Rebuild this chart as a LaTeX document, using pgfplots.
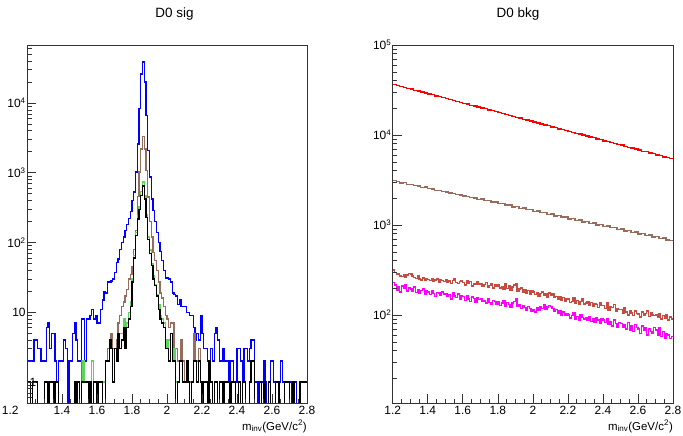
\documentclass[border=0pt]{standalone}
\usepackage{fontspec}
\setmainfont{Liberation Sans}
\usepackage{pgfplots}
\usepackage{pgfplotstable}
\pgfplotsset{compat=1.18}
\definecolor{hblue}{RGB}{0,0,255}
\definecolor{hbrown}{RGB}{150,108,92}
\definecolor{hgreen}{RGB}{90,215,90}
\definecolor{hred}{RGB}{255,0,0}
\definecolor{hrosy}{RGB}{200,75,65}
\definecolor{hmag}{RGB}{255,0,255}

% left panel: 0.01 GeV bins from 1.20; the last row repeats the last bin to close it at 2.80
\pgfplotstableread[row sep=\\]{
U R G B\\
2 1 1 1\\ 2 1 1 1\\ 2 0 0 0\\ 2 1 1 1\\ 4 1 1 1\\ 4 1 1 1\\ 3 0 0 0\\ 3 0 0 0\\ 2 0 0 0\\ 2 0 0 0\\
2 1 1 1\\ 6 1 1 1\\ 7 0 0 0\\ 3 1 1 1\\ 5 1 1 1\\ 5 0 0 0\\ 2 1 1 1\\ 1 1 1 1\\ 2 0 0 0\\ 2 0 0 0\\
2 0 0 0\\ 4 0 0 0\\ 3 0 0 0\\ 0 0 0 0\\ 2 0 0 0\\ 2 0 0 0\\ 5 0 0 0\\ 7 1 1 1\\ 4 0 0 0\\ 2 1 1 1\\
2 0 0 0\\ 8 2 1 1\\ 8 2 2 1\\ 2 1 1 1\\ 8 1 1 1\\ 8 0 0 0\\ 9 1 1 1\\ 11 2 2 0\\ 8 1 1 1\\ 9 1 1 1\\
7 1 1 0\\ 7 1 1 1\\ 11 1 1 1\\ 15 1 1 0\\ 20 1 1 0\\ 19 2 2 2\\ 27 3 2 2\\ 27 4 4 4\\ 28 5 3 3\\ 30 3 1 1\\
37 3 3 3\\ 52 4 2 2\\ 58 7 5 5\\ 80 9 5 3\\ 100 12 5 4\\ 120 14 8 6\\ 150 17 6 3\\ 180 21 7 6\\ 220 30 10 8\\ 280 35 14 12\\
400 45 30 27\\ 530 80 65 60\\ 1030 150 140 126\\ 2600 460 240 218\\ 8300 1030 330 300\\ 26000 2200 540 470\\ 39000 3300 740 650\\ 20000 2200 470 420\\ 6600 1070 250 230\\ 2100 450 120 110\\
870 200 78 70\\ 420 120 50 47\\ 290 72 33 30\\ 200 55 25 24\\ 140 40 18 17\\ 100 27 13 11\\ 75 19 9 8\\ 55 16 8 7\\ 40 12 7 6\\ 31 9 4 3\\
31 8 3 3\\ 30 6 4 2\\ 27 7 5 5\\ 19 7 2 2\\ 18 3 3 2\\ 17 3 1 0\\ 13 2 1 1\\ 15 2 2 2\\ 12 4 2 2\\ 12 2 1 1\\
12 1 1 1\\ 10 2 2 2\\ 10 1 1 1\\ 9 1 0 0\\ 9 1 1 1\\ 6 5 2 2\\ 4 2 2 2\\ 5 2 1 1\\ 4 3 2 2\\ 9 1 1 1\\
5 0 0 0\\ 3 1 1 1\\ 3 1 1 1\\ 2 0 0 0\\ 2 2 2 2\\ 3 1 1 1\\ 2 0 0 0\\ 5 1 1 1\\ 6 1 1 1\\ 4 0 0 0\\
2 1 1 1\\ 2 1 1 1\\ 3 0 0 0\\ 2 1 1 1\\ 2 1 1 1\\ 1 1 1 1\\ 2 0 0 0\\ 2 1 1 1\\ 1 1 1 1\\ 1 0 0 0\\
3 0 0 0\\ 3 1 1 1\\ 2 0 0 0\\ 1 1 1 1\\ 3 1 1 1\\ 3 0 0 0\\ 2 0 0 0\\ 3 1 1 1\\ 4 2 2 2\\ 4 2 2 2\\
1 0 0 0\\ 1 0 0 0\\ 0 0 0 0\\ 1 1 1 1\\ 1 0 0 0\\ 2 1 1 1\\ 1 0 0 0\\ 0 0 0 0\\ 1 1 1 1\\ 2 0 0 0\\
2 0 0 0\\ 1 0 0 0\\ 1 1 1 1\\ 1 1 1 1\\ 1 0 0 0\\ 2 0 0 0\\ 1 0 0 0\\ 1 1 1 1\\ 1 1 1 1\\ 1 1 1 1\\
1 0 0 0\\ 0 0 0 0\\ 1 1 1 1\\ 1 0 0 0\\ 0 0 0 0\\ 0 0 0 0\\ 1 1 1 1\\ 1 1 1 1\\ 1 1 1 1\\ 1 1 1 1\\
1 1 1 1\\
}\sig

% right panel, smooth series: 0.02 GeV bins
\pgfplotstableread[row sep=\\]{
Red Brn\\
36300 3100\\ 35600 3050\\ 34500 2940\\ 33900 2950\\ 32800 2830\\
32300 2820\\ 31300 2730\\ 30800 2720\\ 29900 2620\\ 29300 2630\\
28500 2530\\ 28000 2510\\ 27100 2430\\ 26700 2420\\ 25900 2340\\
25400 2330\\ 24600 2260\\ 24200 2250\\ 23500 2170\\ 23100 2160\\
22400 2090\\ 22000 2080\\ 21300 2010\\ 21000 2000\\ 20400 1930\\
19900 1940\\ 19600 1860\\ 18900 1870\\ 18600 1790\\ 18100 1800\\
17800 1720\\ 17200 1730\\ 16900 1660\\ 16400 1660\\ 16100 1590\\
15600 1600\\ 15400 1530\\ 14900 1540\\ 14600 1480\\ 14300 1480\\
13900 1420\\ 13600 1430\\ 13300 1370\\ 12900 1370\\ 12700 1310\\
12300 1320\\ 12100 1260\\ 11700 1270\\ 11500 1220\\ 11200 1220\\
11000 1170\\ 10700 1180\\ 10400 1120\\ 10200 1130\\ 9950 1080\\
9750 1090\\ 9450 1040\\ 9300 1050\\ 9000 1000\\ 8850 1010\\
8600 960\\ 8450 970\\ 8200 930\\ 8050 935\\ 7800 895\\
7700 900\\ 7450 860\\ 7300 870\\ 7150 830\\ 6950 835\\
6800 795\\ 6600 800\\ 6500 765\\ 6300 770\\ 6200 735\\
6000 745\\ 5900 710\\ 5700 715\\ 5650 680\\ 5450 670\\
5450 670\\
}\bkgA

% right panel, noisy series: 0.01 GeV bins
\pgfplotstableread[row sep=\\]{
Ros Mag\\
315 228\\ 298 215\\ 285 190\\ 290 205\\ 272 180\\ 268 210\\ 280 198\\ 265 215\\ 278 185\\ 290 200\\
285 195\\ 270 185\\ 262 205\\ 255 178\\ 275 190\\ 250 172\\ 245 188\\ 258 195\\ 240 170\\ 252 185\\
248 180\\ 240 168\\ 255 185\\ 238 172\\ 245 160\\ 250 178\\ 232 175\\ 248 165\\ 240 180\\ 235 170\\
245 172\\ 230 160\\ 238 168\\ 225 150\\ 240 175\\ 250 162\\ 228 155\\ 222 170\\ 235 148\\ 242 165\\
228 160\\ 215 145\\ 240 165\\ 222 150\\ 235 140\\ 210 158\\ 225 152\\ 218 138\\ 232 155\\ 220 148\\
225 150\\ 210 140\\ 218 145\\ 228 135\\ 205 152\\ 212 138\\ 222 130\\ 200 145\\ 215 140\\ 208 132\\
218 140\\ 200 128\\ 206 135\\ 195 145\\ 225 125\\ 198 138\\ 210 130\\ 190 122\\ 205 135\\ 215 142\\
225 150\\ 185 125\\ 195 130\\ 200 118\\ 180 128\\ 190 120\\ 175 112\\ 188 125\\ 170 118\\ 185 110\\
180 115\\ 168 108\\ 175 120\\ 160 112\\ 172 125\\ 180 118\\ 165 130\\ 170 115\\ 158 122\\ 175 128\\
165 125\\ 170 118\\ 155 110\\ 160 115\\ 150 105\\ 158 112\\ 145 100\\ 155 108\\ 140 98\\ 150 104\\
150 100\\ 138 92\\ 142 98\\ 155 105\\ 135 90\\ 145 96\\ 130 88\\ 140 100\\ 150 94\\ 132 90\\
135 92\\ 140 88\\ 128 95\\ 138 85\\ 125 90\\ 132 82\\ 130 92\\ 120 88\\ 135 80\\ 128 90\\
128 88\\ 118 82\\ 135 90\\ 112 78\\ 125 85\\ 120 75\\ 130 88\\ 110 80\\ 118 72\\ 115 82\\
115 80\\ 105 72\\ 120 78\\ 108 70\\ 100 82\\ 112 68\\ 105 75\\ 98 65\\ 110 78\\ 104 72\\
102 70\\ 95 62\\ 108 75\\ 98 68\\ 104 72\\ 110 60\\ 96 70\\ 105 65\\ 100 62\\ 98 72\\
100 68\\ 95 60\\ 104 72\\ 90 58\\ 98 65\\ 92 55\\ 100 62\\ 88 60\\ 95 55\\ 90 58\\
90 58\\
}\bkgB

\pgfplotsset{
  rootaxis/.style={
    scale only axis, anchor=south west,
    height=358bp,
    xmin=1.2, xmax=2.8,
    xtick={1.2,1.4,1.6,1.8,2,2.2,2.4,2.6,2.8},
    minor x tick num=3,
    tick align=inside, tick pos=left,
    axis on top,
    major tick length=9bp, minor tick length=4.5bp,
    axis line style={black!80, line width=0.8bp},
    every tick/.style={black!80, line width=0.6bp},
    ticklabel style={font=\fontsize{12}{14}\selectfont},
    yticklabel style={inner xsep=1.2bp},
    /pgf/number format/assume math mode=true,
    xlabel style={at={(rel axis cs:1,0)}, anchor=north east, yshift=-17bp,
      inner sep=0pt, font=\fontsize{11.5}{13}\selectfont},
    xlabel={m\textsubscript{inv}(GeV/c\textsuperscript{2})},
  },
  hist/.style={const plot mark left, no markers, line width=1.4bp},
}

\begin{document}
\begin{tikzpicture}[x=1bp,y=1bp]
\useasboundingbox (0,0) rectangle (683,436);
\node[font=\fontsize{13.5}{16}\selectfont] at (174.5,422) {D0 sig};
\node[font=\fontsize{13.5}{16}\selectfont] at (518,422) {D0 bkg};

\begin{axis}[ymode=log, rootaxis, at={(27bp,33bp)}, width=280bp,
  ymin=0.5, ymax=68000,
  xticklabels={\llap{1.2\hspace{8.5bp}},1.4,1.6,1.8,2,2.2,2.4,2.6,2.8},
  ytick={1,10,100,1000,10000},
  yticklabels={\rlap{\hspace{4bp}1},10,10\textsuperscript{2},10\textsuperscript{3},10\textsuperscript{4}},
  minor ytick={0.6,0.7,0.8,0.9,2,3,4,5,6,7,8,9,20,30,40,50,60,70,80,90,200,300,400,500,600,700,800,900,2000,3000,4000,5000,6000,7000,8000,9000,20000,30000,40000,50000,60000},
]
\addplot[hist, color=hblue] table[x expr={min(2.8,1.2+0.01*\coordindex)}, y expr={max(\thisrow{U},0.01)}] {\sig};
\addplot[hist, color=hbrown] table[x expr={min(2.8,1.2+0.01*\coordindex)}, y expr={max(\thisrow{R},0.01)}] {\sig};
\addplot[hist, color=hgreen] table[x expr={min(2.8,1.2+0.01*\coordindex)}, y expr={max(\thisrow{G},0.01)}] {\sig};
\addplot[hist, color=black] table[x expr={min(2.8,1.2+0.01*\coordindex)}, y expr={max(\thisrow{B},0.01)}] {\sig};
\end{axis}

\begin{axis}[ymode=log, rootaxis, at={(392.7bp,33bp)}, width=280.3bp,
  ymin=10.5, ymax=100000,
  ytick={100,1000,10000,100000},
  yticklabels={10\textsuperscript{2},10\textsuperscript{3},10\textsuperscript{4},10\textsuperscript{5}},
  minor ytick={20,30,40,50,60,70,80,90,200,300,400,500,600,700,800,900,2000,3000,4000,5000,6000,7000,8000,9000,20000,30000,40000,50000,60000,70000,80000,90000},
]
\addplot[hist, color=hred] table[x expr={min(2.8,1.2+0.02*\coordindex)}, y expr={\thisrow{Red}}] {\bkgA};
\addplot[hist, color=hbrown] table[x expr={min(2.8,1.2+0.02*\coordindex)}, y expr={\thisrow{Brn}}] {\bkgA};
\addplot[hist, color=hrosy] table[x expr={min(2.8,1.2+0.01*\coordindex)}, y expr={\thisrow{Ros}}] {\bkgB};
\addplot[hist, color=hmag] table[x expr={min(2.8,1.2+0.01*\coordindex)}, y expr={\thisrow{Mag}}] {\bkgB};
\end{axis}
\end{tikzpicture}
\end{document}
